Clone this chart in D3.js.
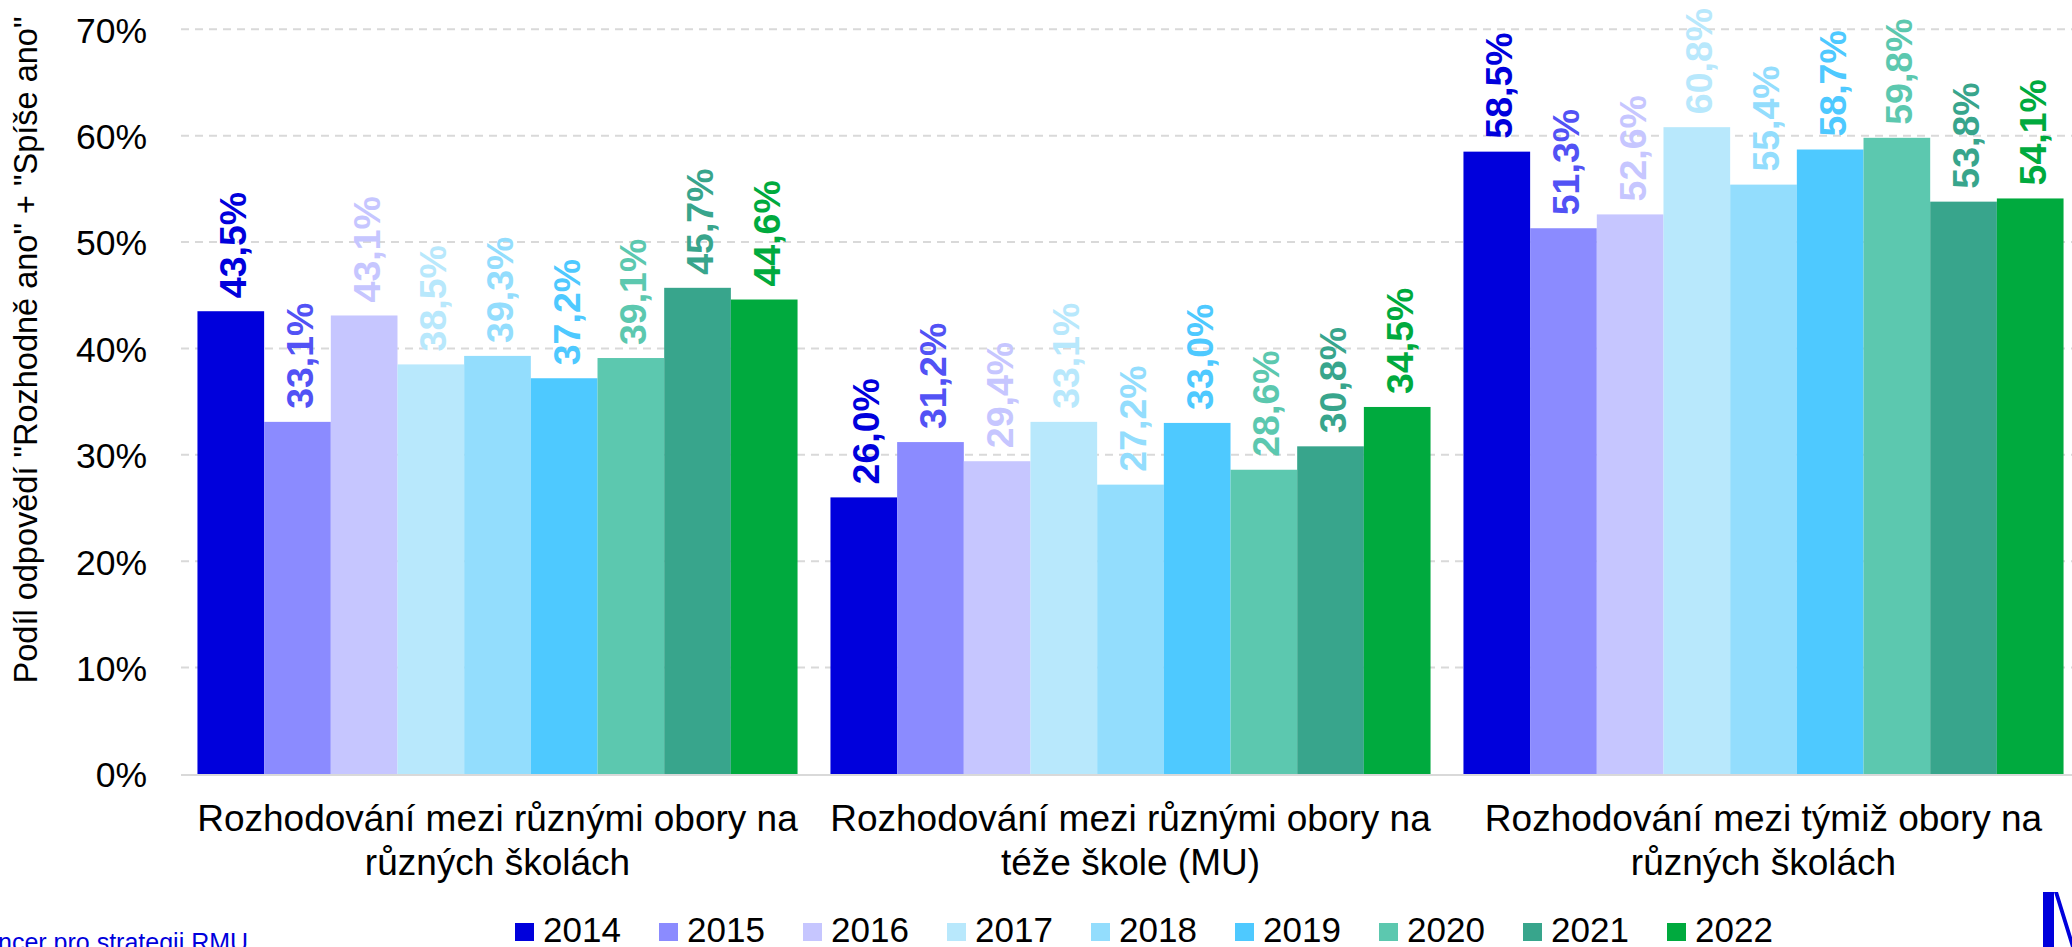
<!DOCTYPE html>
<html>
<head>
<meta charset="utf-8">
<script src="https://cdn.jsdelivr.net/npm/d3@7"></script>
<style>
  body { margin: 0; background: #fff; overflow: hidden; }
  text { font-family: "Liberation Sans", Arial, sans-serif; }
</style>
</head>
<body>
<div id="chart-area"></div>
<script>

// SVG Size
var width = 2072,
    height = 947;

// Data
var categories = [
  ["Rozhodování mezi různými obory na", "různých školách"],
  ["Rozhodování mezi různými obory na", "téže škole (MU)"],
  ["Rozhodování mezi týmiž obory na", "různých školách"]
];
var years = ["2014", "2015", "2016", "2017", "2018", "2019", "2020", "2021", "2022"];
var values2014 = [43.5, 26.0, 58.5];
var values2015 = [33.1, 31.2, 51.3];
var values2016 = [43.1, 29.4, 52.6];
var values2017 = [38.5, 33.1, 60.8];
var values2018 = [39.3, 27.2, 55.4];
var values2019 = [37.2, 33.0, 58.7];
var values2020 = [39.1, 28.6, 59.8];
var values2021 = [45.7, 30.8, 53.8];
var values2022 = [44.6, 34.5, 54.1];
var yTicks = [0, 10, 20, 30, 40, 50, 60, 70];

var seriesValues = [values2014, values2015, values2016, values2017, values2018,
                    values2019, values2020, values2021, values2022];

var barColors = ["#0000DC", "#8B8BFF", "#C6C6FF", "#B8E8FC", "#93DDFD",
                 "#4EC9FF", "#5CC8AF", "#38A58C", "#00AA3E"];
var labelColors = ["#0000DC", "#5252F5", "#C6C6FF", "#B8E8FC", "#93DDFD",
                   "#4EC9FF", "#5CC8AF", "#38A58C", "#00AA3E"];

// Flatten to one record per bar
var data = [];
categories.forEach(function(c, ci) {
  years.forEach(function(yr, yi) {
    data.push({ cat: ci, year: yr, yi: yi, value: seriesValues[yi][ci] });
  });
});

var svg = d3.select("#chart-area").append("svg")
    .attr("width", width)
    .attr("height", height);

// Plot area
var plotLeft = 181, plotRight = 2080, plotTop = 29.3, plotBottom = 774;

// Scales
var x0 = d3.scaleBand()
    .domain(d3.range(categories.length))
    .range([plotLeft, plotRight])
    .paddingInner(0.052)
    .paddingOuter(0.026);

var x1 = d3.scaleBand()
    .domain(years)
    .range([0, x0.bandwidth()]);

var yScale = d3.scaleLinear()
    .domain([0, 70])
    .range([plotBottom, plotTop]);

// Grid lines
svg.append("g")
  .selectAll("line")
  .data(yTicks.filter(function(d){ return d > 0; }))
  .enter()
  .append("line")
    .attr("x1", plotLeft)
    .attr("x2", width)
    .attr("y1", function(d){ return yScale(d); })
    .attr("y2", function(d){ return yScale(d); })
    .attr("stroke", "#D9D9D9")
    .attr("stroke-width", 2)
    .attr("stroke-dasharray", "8,6");

// Y axis labels
var yAxis = d3.axisLeft(yScale)
    .tickValues(yTicks)
    .tickSize(0)
    .tickPadding(0)
    .tickFormat(function(d){ return d + "%"; });

var yAxisG = svg.append("g")
    .attr("transform", "translate(147,0)")
    .call(yAxis);
yAxisG.select(".domain").remove();
yAxisG.selectAll("text")
    .attr("font-family", "'Liberation Sans', Arial, sans-serif")
    .attr("font-size", 35.5)
    .attr("fill", "#000")
    .attr("dy", "0.36em");

// Bars
svg.append("g")
  .selectAll("rect")
  .data(data)
  .enter()
  .append("rect")
    .attr("x", function(d){ return x0(d.cat) + x1(d.year); })
    .attr("y", function(d){ return yScale(d.value); })
    .attr("width", x1.bandwidth())
    .attr("height", function(d){ return yScale(0) - yScale(d.value); })
    .attr("fill", function(d){ return barColors[d.yi]; });

// Baseline
svg.append("line")
    .attr("x1", plotLeft)
    .attr("x2", width)
    .attr("y1", yScale(0) + 1)
    .attr("y2", yScale(0) + 1)
    .attr("stroke", "#D9D9D9")
    .attr("stroke-width", 2);

// Value labels (rotated)
svg.append("g")
  .selectAll("text")
  .data(data)
  .enter()
  .append("text")
    .attr("transform", function(d){
      var cx = x0(d.cat) + x1(d.year) + x1.bandwidth() / 2 + 2;
      return "translate(" + cx + "," + (yScale(d.value) - 13) + ") rotate(-90)";
    })
    .attr("dy", "0.36em")
    .attr("text-anchor", "start")
    .attr("font-size", 37.5)
    .attr("font-weight", "bold")
    .attr("fill", function(d){ return labelColors[d.yi]; })
    .text(function(d){ return d.value.toFixed(1).replace(".", ",") + "%"; });

// Category labels
var catG = svg.append("g")
  .selectAll("text")
  .data(categories)
  .enter()
  .append("text")
    .attr("text-anchor", "middle")
    .attr("font-size", 37)
    .attr("fill", "#000");
catG.selectAll("tspan")
  .data(function(d, i){ return d.map(function(line, li){ return { line: line, li: li, ci: i }; }); })
  .enter()
  .append("tspan")
    .attr("x", function(d){ return x0(d.ci) + x0.bandwidth() / 2; })
    .attr("y", function(d){ return 831 + d.li * 44; })
    .text(function(d){ return d.line; });

// Y axis title
svg.append("text")
    .attr("transform", "translate(37,350) rotate(-90)")
    .attr("text-anchor", "middle")
    .attr("font-size", 32.5)
    .attr("fill", "#000")
    .text("Podíl odpovědí \"Rozhodně ano\" + \"Spíše ano\"");

// Legend
var legend = svg.append("g")
  .selectAll("g")
  .data(years)
  .enter()
  .append("g")
    .attr("transform", function(d, i){ return "translate(" + (515 + i * 144) + ",0)"; });
legend.append("rect")
    .attr("x", 0)
    .attr("y", 923)
    .attr("width", 19)
    .attr("height", 18)
    .attr("fill", function(d, i){ return barColors[i]; });
legend.append("text")
    .attr("x", 28)
    .attr("y", 942)
    .attr("font-size", 35)
    .attr("fill", "#000")
    .text(function(d){ return d; });

// Footer (cut off at page edge)
svg.append("text")
    .attr("x", -2)
    .attr("y", 951)
    .attr("font-size", 25)
    .attr("fill", "#0000DC")
    .text("ncer pro strategii RMU");

// Logo fragment at bottom right
svg.append("path")
    .attr("d", "M2043,892 L2054,892 L2054,947 L2043,947 Z M2054,892 L2058,892 L2075,947 L2071,947 Z")
    .attr("fill", "#0000DC");

</script>
</body>
</html>
